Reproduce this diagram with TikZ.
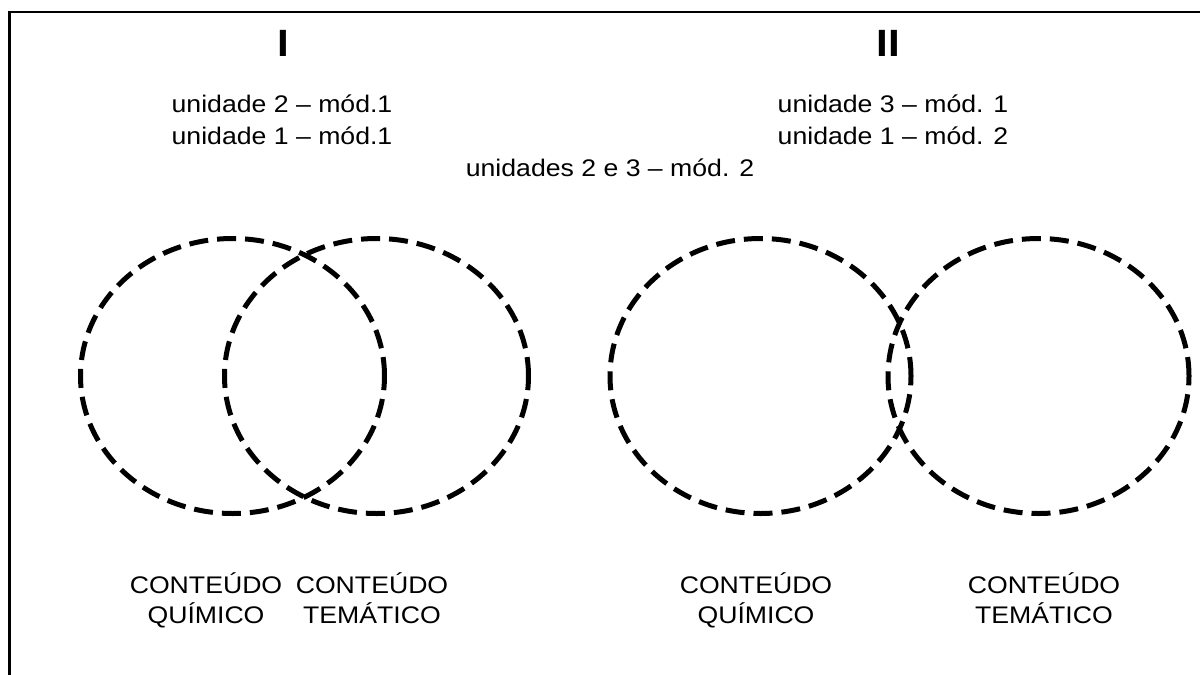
\documentclass[tikz,border=0pt]{standalone}
\usepackage{fontspec}
\setmainfont{Liberation Sans}[FakeStretch=1.11]
\usetikzlibrary{shapes.geometric}
\begin{document}
\begin{tikzpicture}[x=1pt,y=-1pt,
  frame/.style={line width=2.5pt},
  setring/.style={ellipse,draw,line width=5pt,dash pattern=on 19pt off 9pt,
    minimum width=304pt,minimum height=275pt,inner sep=0pt},
  heading/.style={font=\fontsize{38}{40}\selectfont\bfseries,anchor=base},
  unitlist/.style={font=\fontsize{24}{32}\selectfont,align=center,anchor=base},
  setlabel/.style={font=\fontsize{24}{30}\selectfont,align=center,anchor=base}]
  \useasboundingbox (0,0) rectangle (1200,675);
  % open frame along the top and left edges
  \coordinate (ftr) at (1200,12);
  \coordinate (ftl) at (9.5,12);
  \coordinate (fbl) at (9.5,675);
  \draw[frame] (ftr) -- (ftl) -- (fbl);
  % group headings
  \node[heading] (hI) at (283,56) {I};
  \node[heading] (hII) at (888,56) {II};
  % unit lists (base anchor sits on the last line)
  \node[unitlist] (uI) at (282,144) {unidade 2 – mód.1\\unidade 1 – mód.1};
  \node[unitlist] (uII) at (893,144) {unidade 3 – mód. 1\\unidade 1 – mód. 2};
  \node[unitlist] (uboth) at (610,176) {unidades 2 e 3 – mód. 2};
  % overlapping sets
  \node[setring] (q1) at (232.5,376) {};
  \node[setring] (t1) at (376.5,376) {};
  % touching sets
  \node[setring,minimum width=301pt] (q2) at (760.5,376) {};
  \node[setring,minimum width=301pt] (t2) at (1038.5,376) {};
  % set labels
  \node[setlabel] (lq1) at (206,623) {CONTEÚDO\\QUÍMICO};
  \node[setlabel] (lt1) at (372,623) {CONTEÚDO\\TEMÁTICO};
  \node[setlabel] (lq2) at (756,623) {CONTEÚDO\\QUÍMICO};
  \node[setlabel] (lt2) at (1044,623) {CONTEÚDO\\TEMÁTICO};
\end{tikzpicture}
\end{document}
